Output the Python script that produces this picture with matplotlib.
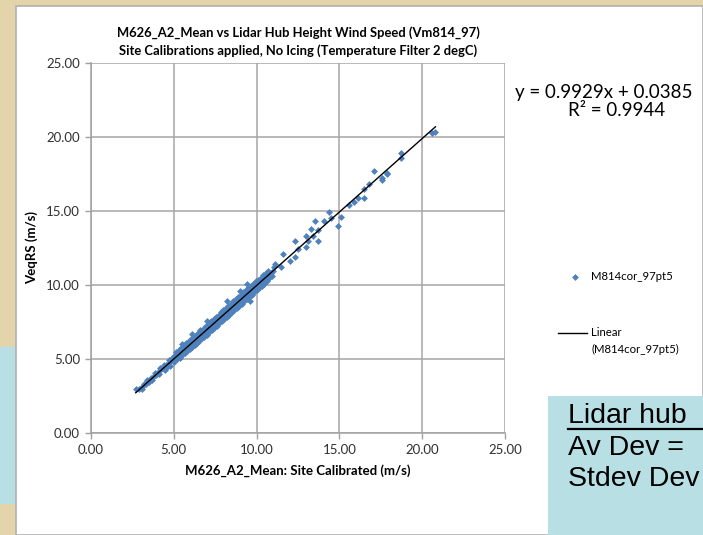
import matplotlib
matplotlib.use("Agg")
import matplotlib.pyplot as plt
from matplotlib.patches import Rectangle
from matplotlib.lines import Line2D
import numpy as np

# ---------------- data ----------------
dense_points = [
    (2.7, 3.0), (2.9, 2.95), (3.05, 3.1), (3.1, 2.95), (3.2, 3.3), (3.35, 3.3), (3.4, 3.55),
    (3.5, 3.45), (3.65, 3.75), (3.7, 3.6), (3.8, 3.85), (3.85, 4.05), (3.95, 3.9),
    (4.1, 4.2), (4.15, 4.4), (4.1, 4.0), (4.25, 4.3), (4.4, 4.35), (4.4, 4.6), (4.45, 4.25),
    (4.55, 4.6), (4.6, 4.45), (4.7, 4.75), (4.7, 4.95), (4.75, 4.55), (4.85, 4.85), (4.9, 5.1),
    (5.0, 5.0), (5.0, 4.8), (5.05, 5.25), (5.15, 5.2), (5.2, 5.0), (5.15, 5.45),
    (5.3, 5.35), (5.35, 5.1), (5.3, 5.6), (5.45, 5.5), (5.5, 5.25), (5.45, 5.75),
    (5.6, 5.6), (5.65, 5.4), (5.6, 5.85), (5.75, 5.8), (5.8, 5.55), (5.75, 6.05),
    (5.9, 5.9), (5.95, 5.7), (5.9, 6.2), (6.05, 6.1), (6.1, 5.8), (6.05, 6.35),
    (6.2, 6.2), (6.25, 5.95), (6.2, 6.5), (6.35, 6.4), (6.4, 6.1), (6.35, 6.65),
    (6.5, 6.5), (6.55, 6.25), (6.5, 6.8), (6.6, 6.95), (6.65, 6.65), (6.7, 6.4), (6.65, 6.9),
    (6.8, 6.8), (6.85, 6.5), (6.8, 7.1), (6.95, 6.95), (7.0, 6.65), (6.95, 7.25),
    (7.1, 7.1), (7.15, 6.85), (7.1, 7.4), (7.25, 7.25), (7.3, 6.95), (7.25, 7.55),
    (7.4, 7.4), (7.45, 7.1), (7.4, 7.7), (7.55, 7.55), (7.6, 7.25), (7.55, 7.85),
    (7.7, 7.7), (7.75, 7.4), (7.7, 8.0), (7.85, 7.85), (7.9, 7.55), (7.85, 8.15),
    (8.0, 7.95), (8.05, 7.7), (8.0, 8.3), (8.15, 8.15), (8.2, 7.85), (8.15, 8.45),
    (8.3, 8.3), (8.35, 8.0), (8.3, 8.6), (8.45, 8.4), (8.5, 8.15), (8.45, 8.75),
    (8.6, 8.6), (8.65, 8.3), (8.6, 8.9), (8.75, 8.75), (8.8, 8.45), (8.75, 9.05),
    (8.9, 8.85), (8.95, 8.6), (8.9, 9.2), (9.05, 9.05), (9.1, 8.75), (9.05, 9.35),
    (9.2, 9.15), (9.25, 8.9), (9.2, 9.5), (9.35, 9.35), (9.4, 9.05), (9.35, 9.65),
    (9.5, 9.45), (9.55, 9.2), (9.5, 9.8), (9.65, 9.6), (9.7, 9.35), (9.65, 9.95),
    (9.8, 9.75), (9.85, 9.5), (9.8, 10.1), (9.95, 9.9), (10.0, 9.65), (9.95, 10.25),
    (10.1, 10.05), (10.15, 9.8), (10.1, 10.35), (10.25, 10.2), (10.3, 9.95), (10.25, 10.5),
    (10.4, 10.35), (10.45, 10.1), (10.4, 10.65), (10.55, 10.5), (10.6, 10.25), (10.55, 10.8),
    (10.7, 10.65), (10.75, 10.45), (10.7, 10.95), (10.85, 10.8), (10.9, 10.6),
    (11.0, 10.95), (11.05, 11.2),
]
outlier_points = [
    (5.5, 6.0), (6.1, 6.7), (7.0, 7.6), (8.2, 8.9), (9.0, 9.6), (9.4, 10.1), (9.6, 8.95),
    (11.1, 11.4), (11.5, 11.2), (11.6, 12.1), (12.0, 11.6), (12.3, 11.9), (12.5, 12.4),
    (12.3, 13.0), (13.0, 12.6), (13.1, 13.0), (13.0, 13.3), (13.7, 13.0), (13.4, 13.3),
    (13.3, 13.8), (13.7, 13.7), (13.5, 14.3), (14.1, 14.35), (14.5, 14.5), (14.4, 14.9),
    (14.9, 14.0), (15.1, 14.6), (15.6, 15.4), (15.9, 15.6), (16.5, 15.9), (16.1, 15.9),
    (16.5, 16.5), (16.8, 16.8), (17.6, 17.1), (17.9, 17.5), (17.1, 17.7), (17.6, 17.2),
    (17.9, 17.6), (18.7, 18.6), (18.7, 18.9), (20.6, 20.3), (20.8, 20.35),
]
fit_slope = 0.9929
fit_intercept = 0.0385
fit_r2 = 0.9944

x_ticks = [0, 5, 10, 15, 20, 25]
y_ticks = [0, 5, 10, 15, 20, 25]

series_name = "M814cor_97pt5"
title_lines = ["M626_A2_Mean vs Lidar Hub Height Wind Speed (Vm814_97)",
               "Site Calibrations applied, No Icing (Temperature Filter 2 degC)"]
x_label = "M626_A2_Mean: Site Calibrated (m/s)"
y_label = "VeqRS (m/s)"
box_lines = ["Lidar hub", "Av Dev =", "Stdev Dev"]

# ---------------- figure ----------------
W, H = 703, 535
fig = plt.figure(figsize=(W / 100, H / 100), dpi=100)
FONT = "Lato"

def fx(px):
    return px / W

def fy(py):
    return 1 - py / H

TAN = "#E3D4A9"
BLUE = "#B8DFE3"
fig.patch.set_facecolor("white")
# background decor
fig.add_artist(Rectangle((0, 0), 1, 1, transform=fig.transFigure, color=TAN, zorder=-10))
fig.add_artist(Rectangle((fx(0), fy(503)), fx(15), fy(347) - fy(503), transform=fig.transFigure,
                         color=BLUE, zorder=-9))
fig.add_artist(Rectangle((fx(16), 0), 1 - fx(16), fy(6), transform=fig.transFigure,
                         facecolor="white", edgecolor="#B0B0B0", lw=1.2, zorder=-8))
fig.add_artist(Rectangle((fx(548), 0), 1 - fx(548), fy(396), transform=fig.transFigure,
                         facecolor=BLUE, edgecolor="none", zorder=5))

AX_L, AX_R, AX_T, AX_B = 91, 505, 63, 433
ax = fig.add_axes([fx(AX_L), fy(AX_B), fx(AX_R) - fx(AX_L), fy(AX_T) - fy(AX_B)])
ax.set_xlim(0, 25)
ax.set_ylim(0, 25)
ax.set_xticks(x_ticks)
ax.set_yticks(y_ticks)
ax.set_xticklabels([f"{v:.2f}" for v in x_ticks], fontfamily=FONT, fontsize=9.5, color="#303030")
ax.set_yticklabels([f"{v:.2f}" for v in y_ticks], fontfamily=FONT, fontsize=9.5, color="#303030")
ax.grid(True, color="#A6A6A6", lw=1.1)
ax.set_axisbelow(True)
for s in ["top", "right"]:
    ax.spines[s].set_visible(False)
for s in ["left", "bottom"]:
    ax.spines[s].set_color("#A0A0A0")
    ax.spines[s].set_linewidth(1.1)
ax.tick_params(direction="out", length=4, width=1.0, color="#A0A0A0", pad=4)
ax.patch.set_facecolor("white")

pts = dense_points + outlier_points
xs = np.array([p[0] for p in pts])
ys = np.array([p[1] for p in pts])
ax.plot(xs, ys, linestyle="none", marker="D", markersize=3.5, color="#4F81BD",
        markeredgewidth=0, zorder=3, clip_on=False)

xl = np.array([xs.min(), xs.max()])
ax.plot(xl, fit_slope * xl + fit_intercept, color="black", lw=1.0, zorder=4)

ax.set_xlabel(x_label, fontfamily=FONT, fontsize=9.5, fontweight="bold", labelpad=6)
ax.set_ylabel(y_label, fontfamily=FONT, fontsize=9.5, fontweight="bold", labelpad=6)

cx = fx((AX_L + AX_R) / 2)
fig.text(cx, fy(33), title_lines[0], ha="center", va="center", fontfamily=FONT,
         fontsize=9.4, fontweight="bold")
fig.text(cx, fy(51), title_lines[1], ha="center", va="center", fontfamily=FONT,
         fontsize=9.4, fontweight="bold")

# equation
fig.text(fx(604), fy(92), f"y = {fit_slope}x + {fit_intercept}", ha="center", va="center",
         fontfamily=FONT, fontsize=13.5)
fig.text(fx(617), fy(111), f"R² = {fit_r2}", ha="center", va="center",
         fontfamily=FONT, fontsize=13.5)

# legend
fig.add_artist(Line2D([fx(575)], [fy(277)], transform=fig.transFigure, marker="D",
                      markersize=3.5, color="#4F81BD", markeredgewidth=0, linestyle="none"))
fig.text(fx(591), fy(277), series_name, ha="left", va="center", fontfamily=FONT, fontsize=8.2)
fig.add_artist(Line2D([fx(558), fx(587)], [fy(333), fy(333)], transform=fig.transFigure,
                      color="black", lw=1.0))
fig.text(fx(591), fy(333), "Linear", ha="left", va="center", fontfamily=FONT, fontsize=8.2)
fig.text(fx(591), fy(349), f"({series_name})", ha="left", va="center", fontfamily=FONT, fontsize=8.2)

# blue box text
bf = "Liberation Sans"
fig.text(fx(568), fy(416), box_lines[0], ha="left", va="center", fontfamily=bf, fontsize=20.5, zorder=6)
fig.add_artist(Line2D([fx(568), 1], [fy(429), fy(429)], transform=fig.transFigure,
                      color="black", lw=1.6, zorder=6))
fig.text(fx(568), fy(448), box_lines[1], ha="left", va="center", fontfamily=bf, fontsize=20.5, zorder=6)
fig.text(fx(568), fy(479), box_lines[2], ha="left", va="center", fontfamily=bf, fontsize=20.5, zorder=6)

fig.savefig("out.png", dpi=100)
